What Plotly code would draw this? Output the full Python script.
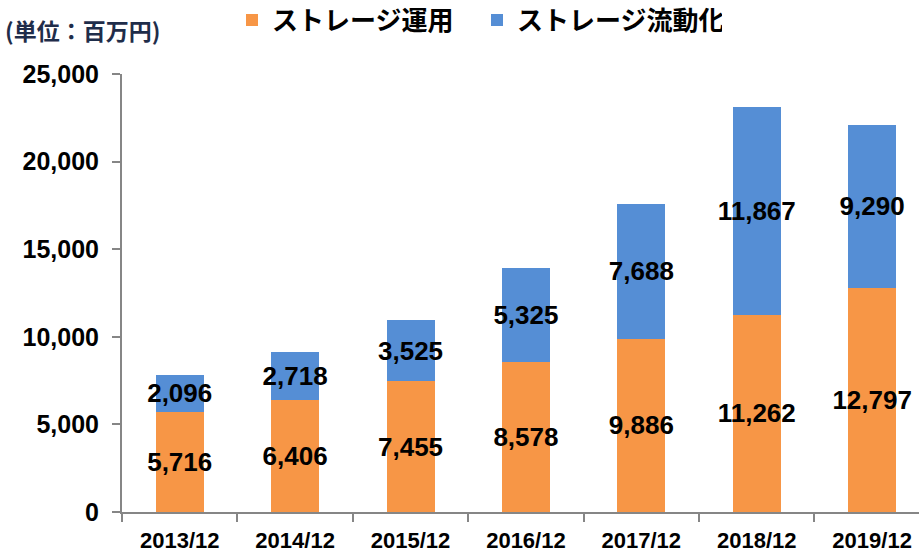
import plotly.graph_objects as go

categories = ["2013/12", "2014/12", "2015/12", "2016/12", "2017/12", "2018/12", "2019/12"]
storage_ops = [5716, 6406, 7455, 8578, 9886, 11262, 12797]
storage_liq = [2096, 2718, 3525, 5325, 7688, 11867, 9290]
series_names = ["ストレージ運用", "ストレージ流動化"]
unit_label = "(単位：百万円)"

ORANGE = "#F79646"
BLUE = "#558ED5"
GRAY = "#868686"
NUM_FONT = "Liberation Sans"
JP_FONT = "Noto Sans CJK JP"

fig = go.Figure()
for name, vals, col in [(series_names[0], storage_ops, ORANGE), (series_names[1], storage_liq, BLUE)]:
    fig.add_trace(go.Bar(
        x=categories, y=vals, name=name,
        marker=dict(color=col, line=dict(width=0)),
        text=vals, texttemplate="<b>%{y:,}</b>",
        textposition="inside", insidetextanchor="middle",
        textangle=0, constraintext="none",
        textfont=dict(family=NUM_FONT, size=26, color="black"),
        hoverinfo="skip",
    ))

fig.update_layout(
    width=919, height=555,
    barmode="stack", bargap=0.584,
    plot_bgcolor="white", paper_bgcolor="white",
    margin=dict(l=122, r=0, t=74, b=43, autoexpand=False),
    showlegend=True,
    legend=dict(
        orientation="h", x=232/919, y=(555 - 20) / 555, xanchor="left", yanchor="middle",
        xref="container", yref="container",
        font=dict(family=JP_FONT, size=26, color="black", weight="bold"),
        traceorder="normal", entrywidth=200,
        bgcolor="rgba(0,0,0,0)",
    ),
    font=dict(family=NUM_FONT, color="black"),
)

fig.update_yaxes(
    range=[0, 25000], dtick=5000, tickformat=",",
    showgrid=False, zeroline=False, automargin=False,
    showline=True, linecolor=GRAY, linewidth=2,
    ticks="outside", ticklen=8, tickcolor=GRAY, tickwidth=2,
    tickfont=dict(family=NUM_FONT, size=25, color="black", weight="bold"),
    ticklabelstandoff=8,
)
fig.update_xaxes(
    range=[-0.5, 6.406],
    showgrid=False, zeroline=False, automargin=False,
    showline=True, linecolor=GRAY, linewidth=2,
    ticks="outside", ticklen=8, tickcolor=GRAY, tickwidth=2,
    tickson="boundaries",
    tickfont=dict(family=NUM_FONT, size=22, color="black", weight="bold"),
    ticklabelstandoff=8,
)

fig.add_annotation(
    text=unit_label, xref="paper", yref="paper",
    x=-119/797, y=1 + (74 - 30) / 438, xanchor="left", yanchor="middle",
    showarrow=False,
    font=dict(family=JP_FONT, size=23, color="#1F2D4A", weight="bold"),
)

fig.write_html("out.html", config={"displayModeBar": False},
               post_script="document.body.style.margin='0';")
